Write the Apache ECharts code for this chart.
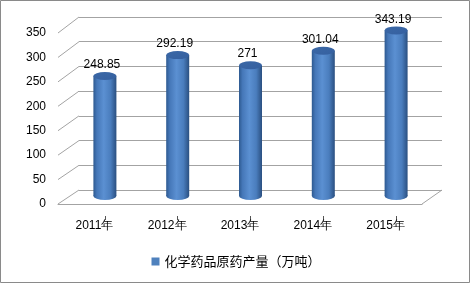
<!DOCTYPE html>
<html><head><meta charset="utf-8">
<script src="https://cdn.jsdelivr.net/npm/echarts@6/dist/echarts.min.js"></script>
<style>html,body{margin:0;padding:0;background:#fff}#c{width:472px;height:284px}</style>
</head><body><div id="c"></div>
<script>
const categories = ['2011年', '2012年', '2013年', '2014年', '2015年'];
const values = [248.85, 292.19, 271, 301.04, 343.19];
const seriesName = '化学药品原药产量（万吨）';
const yMin = 0, yMax = 350, yStep = 50;

const font = 'Liberation Sans, Arial, sans-serif';
const cjkFont = '"Noto Sans CJK SC", "Liberation Sans", sans-serif';
const gridColor = '#a3a3a3';
const barGrad = new echarts.graphic.LinearGradient(0, 0, 1, 0, [
  { offset: 0, color: '#2d5990' },
  { offset: 0.15, color: '#4577b8' },
  { offset: 0.45, color: '#5b90d2' },
  { offset: 0.75, color: '#4a7dbd' },
  { offset: 1, color: '#2a4f80' }
]);
const topGrad = new echarts.graphic.LinearGradient(0, 0, 1, 1, [
  { offset: 0, color: '#3b68a6' },
  { offset: 1, color: '#3560a0' }
]);

const chart = echarts.init(document.getElementById('c'), null, { renderer: 'canvas' });
const yAx = (gi, show) => ({
  type: 'value', gridIndex: gi, min: yMin, max: yMax, interval: yStep,
  axisLine: { show: false }, axisTick: { show: false },
  axisLabel: show ? { color: '#000', fontFamily: font, fontSize: 12, margin: 12 } : { show: false },
  splitLine: { show: false }
});
chart.setOption({
  animation: false,
  grid: [
    { left: 58, right: 50, top: 33, bottom: 80 },   // front plane
    { left: 79, right: 30, top: 17, bottom: 94 },   // back wall
    { left: 68.5, right: 39.5, top: 27, bottom: 88 }, // bar plane
    { left: 68.5, right: 39.5, top: 27, bottom: 68 }  // tick marks
  ],
  xAxis: [
    { type: 'category', gridIndex: 0, data: categories,
      axisLine: { show: true, lineStyle: { color: gridColor } }, axisTick: { show: false },
      axisLabel: { color: '#000', fontFamily: font, fontSize: 12, margin: 16 } },
    { type: 'category', gridIndex: 1, data: categories, show: false },
    { type: 'category', gridIndex: 2, data: categories, show: false },
    { type: 'category', gridIndex: 3, data: categories,
      axisLine: { show: false }, axisLabel: { show: false },
      axisTick: { show: true, alignWithLabel: true, length: 4, lineStyle: { color: '#555' } } }
  ],
  yAxis: [
    yAx(0, true),
    Object.assign(yAx(1, false), { splitLine: { show: true, lineStyle: { color: gridColor, width: 1 } } }),
    yAx(2, false),
    Object.assign(yAx(3, false), { show: false })
  ],
  legend: {
    bottom: 11, left: 'center', itemWidth: 8, itemHeight: 8, icon: 'rect',
    textStyle: { color: '#000', fontFamily: cjkFont, fontSize: 13 },
    data: [{ name: seriesName, itemStyle: { color: '#4f81bd' } }]
  },
  series: [
    { name: seriesName, type: 'pictorialBar', xAxisIndex: 2, yAxisIndex: 2, data: values,
      symbol: 'circle', symbolSize: [23, 8], symbolPosition: 'start', symbolOffset: [0, '50%'],
      itemStyle: { color: barGrad }, z: 3 },
    { name: seriesName, type: 'bar', xAxisIndex: 2, yAxisIndex: 2, data: values, barWidth: 23,
      itemStyle: { color: barGrad }, z: 4,
      label: { show: true, position: 'top', distance: 5, offset: [-3, 0], color: '#000', fontFamily: font, fontSize: 12 } },
    { name: seriesName, type: 'pictorialBar', xAxisIndex: 2, yAxisIndex: 2, data: values,
      symbol: 'circle', symbolSize: [23, 8], symbolPosition: 'end', symbolOffset: [0, '-50%'],
      itemStyle: { color: topGrad, borderColor: '#2f5a94', borderWidth: 0.5 }, z: 5 }
  ]
});

// 3D wall decorations derived from the axes
const ticks = [];
for (let v = yMin; v <= yMax; v += yStep) ticks.push(v);
const fx0 = 58, fx1 = 472 - 50, bx0 = 79, bx1 = 472 - 30;
const g = [];
ticks.forEach(v => {
  const yf = chart.convertToPixel({ yAxisIndex: 0 }, v);
  const yb = chart.convertToPixel({ yAxisIndex: 1 }, v);
  g.push({ type: 'line', shape: { x1: fx0, y1: yf, x2: bx0, y2: yb }, style: { stroke: gridColor, lineWidth: 1 }, z: 1 });
});
const yf0 = chart.convertToPixel({ yAxisIndex: 0 }, yMin);
const yb0 = chart.convertToPixel({ yAxisIndex: 1 }, yMin);
g.push({ type: 'line', shape: { x1: fx1, y1: yf0, x2: bx1, y2: yb0 }, style: { stroke: gridColor, lineWidth: 1 }, z: 1 });
g.push({ type: 'rect', shape: { x: 0.5, y: 0.5, width: 469, height: 282 }, style: { fill: 'none', stroke: '#8a8a8a', lineWidth: 1 }, z: 0 });
chart.setOption({ graphic: g });
</script></body></html>
